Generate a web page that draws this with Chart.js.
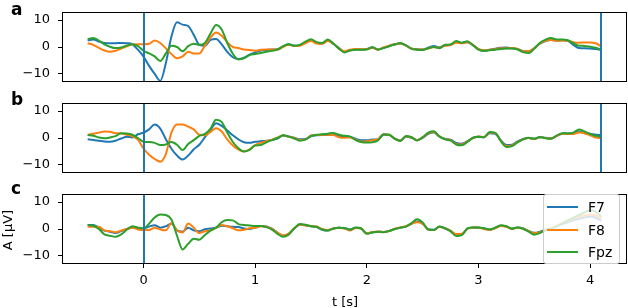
<!DOCTYPE html>
<html>
<head>
<meta charset="utf-8">
<script src="https://cdn.jsdelivr.net/npm/chart.js@4"></script>
<style>
  body { margin: 0; background: #fff; font-family: "DejaVu Sans", sans-serif; color: #000; }
  #wrap { position: relative; width: 628px; height: 308px; overflow: hidden; }
  canvas { position: absolute; left: 0; }
  .tag { position: absolute; left: 11px; font-weight: bold; font-size: 17px; line-height: 17px; }
  #ylab { position: absolute; left: -22px; top: 223px; width: 60px; height: 14px; line-height: 14px;
          font-size: 13px; text-align: center; transform: rotate(-90deg); white-space: nowrap; }
  #xlab { position: absolute; left: 305px; top: 294px; width: 80px; line-height: 15px; font-size: 13px; text-align: center; }
  #legend { position: absolute; left: 543px; top: 194px; width: 77px; height: 70px; box-sizing: border-box;
            border: 1px solid #cccccc; border-radius: 3px; background: rgba(255,255,255,0.8); }
  .lg-row { position: absolute; left: 0; height: 18px; width: 76px; font-size: 14px; line-height: 18px; }
  .lg-line { position: absolute; left: 3px; top: 8px; width: 31px; height: 2px; }
  .lg-text { position: absolute; left: 44px; top: 0; }
</style>
</head>
<body>
<div id="wrap">
  <canvas id="chartA" width="628" height="92" style="top:0px"></canvas>
  <canvas id="chartB" width="628" height="91" style="top:92px"></canvas>
  <canvas id="chartC" width="628" height="125" style="top:183px"></canvas>
  <div class="tag" style="top:1px">a</div>
  <div class="tag" style="top:91px">b</div>
  <div class="tag" style="top:180px">c</div>
  <div id="ylab">A [μV]</div>
  <div id="xlab">t [s]</div>
  <div id="legend"></div>
</div>
<script>
// sample times (s)
const times = [
  -0.5, -0.45, -0.4, -0.35, -0.3, -0.25, -0.2, -0.15, -0.1, -0.05,
  0, 0.05, 0.1, 0.15, 0.2, 0.25, 0.3, 0.35, 0.4, 0.45,
  0.5, 0.55, 0.6, 0.65, 0.7, 0.75, 0.8, 0.85, 0.9, 0.95,
  1, 1.05, 1.1, 1.15, 1.2, 1.25, 1.3, 1.35, 1.4, 1.45,
  1.5, 1.55, 1.6, 1.65, 1.7, 1.75, 1.8, 1.85, 1.9, 1.95,
  2, 2.05, 2.1, 2.15, 2.2, 2.25, 2.3, 2.35, 2.4, 2.45,
  2.5, 2.55, 2.6, 2.65, 2.7, 2.75, 2.8, 2.85, 2.9, 2.95,
  3, 3.05, 3.1, 3.15, 3.2, 3.25, 3.3, 3.35, 3.4, 3.45,
  3.5, 3.55, 3.6, 3.65, 3.7, 3.75, 3.8, 3.85, 3.9, 3.95,
  4, 4.05, 4.1
];
const channels = ['F7', 'F8', 'Fpz'];
const colors = ['#1f77b4', '#ff7f0e', '#2ca02c'];
const yTicks = [-10, 0, 10];
const xTicks = [0, 1, 2, 3, 4];
const eventsAB = [0, 4.1];
const eventsC = [0];

// panel a
const aF7 = [
  2.4, 2.8, 2.0, 1.5, 1.4, 1.4, 1.5, 1.4, 1.0, -1.0,
  -3.6, -7.0, -10.0, -12.6, -6.0, 3.9, 9.2, 8.3, 7.8, 4.5,
  0.8, 0.5, 2.6, 3.0, 1.0, -1.8, -3.8, -4.5, -4.0, -2.8,
  -2.0, -1.3, -1.1, -0.9, -0.8, 0.2, 1.0, 0.5, 0.6, 1.6,
  2.4, 1.6, 1.3, 2.4, 1.2, -0.4, -1.8, -1.2, -0.9, -0.9,
  -0.7, -0.2, -0.9, -0.3, 0.4, 0.9, 1.3, 0.6, -0.5, -0.8,
  -0.9, -0.3, 0.4, -0.1, 0.6, 0.8, 1.8, 1.5, 1.8, 0.7,
  -0.9, -1.5, -1.0, -0.6, -0.3, -0.2, -0.5, -0.7, -1.5, -1.6,
  -0.5, 1.2, 2.2, 2.6, 2.4, 2.5, 2.3, 0.8, -0.4, -0.5,
  -0.6, -0.7, -1.0
];
const aF8 = [
  1.4, 0.8, -0.3, -1.3, -1.8, -1.4, -0.6, 0.3, 0.9, 1.0,
  1.0, 1.2, 2.4, 1.5, -0.5, -2.6, -4.2, -3.5, -1.8, -2.4,
  -2.4, 0.5, 3.5, 5.4, 4.2, 1.8, 0.0, -0.4, -0.9, -1.1,
  -1.4, -1.0, -0.9, -0.9, -0.9, 0.0, 0.8, 0.4, 0.5, 1.4,
  2.2, 1.3, 1.2, 2.2, 1.2, -0.5, -1.6, -1.0, -0.7, -0.8,
  -0.8, -0.3, -1.0, -0.2, 0.5, 1.0, 1.3, 0.5, -0.6, -0.9,
  -0.9, -0.6, 0.0, -0.3, 0.5, 0.7, 1.6, 1.4, 1.8, 0.8,
  -0.7, -1.2, -1.0, -0.8, -0.5, -0.5, -0.4, -0.7, -1.6, -1.6,
  -0.4, 1.3, 2.3, 2.6, 2.3, 2.4, 2.3, 1.8, 1.6, 1.7,
  1.7, 1.4, 0.2
];
const aFpz = [
  2.9, 3.3, 2.4, 1.0, 0.1, -0.4, -0.2, 0.5, 1.0, 0.3,
  -1.4, -2.4, -3.5, -5.2, -2.4, 0.5, 0.0, -1.6, 0.3, 1.2,
  0.8, 1.5, 5.0, 8.2, 6.5, 1.5, -2.5, -4.6, -4.2, -3.0,
  -2.6, -2.2, -1.8, -1.4, -1.0, 0.3, 1.0, 0.5, 0.8, 2.0,
  2.9, 1.8, 1.5, 2.8, 1.3, -0.6, -2.0, -1.3, -1.0, -1.0,
  -0.9, -0.1, -1.0, -0.4, 0.3, 1.0, 1.5, 0.6, -0.7, -1.0,
  -1.1, -0.5, 0.0, -0.5, 0.8, 0.9, 2.2, 1.6, 2.1, 0.7,
  -1.0, -1.4, -1.2, -1.0, -0.7, -0.6, -0.6, -0.9, -1.9, -2.2,
  -0.6, 1.6, 2.7, 3.3, 2.8, 2.8, 2.5, 1.4, 0.5, 0.4,
  0.1, -0.3, -1.1
];

// panel b
const bF7 = [
  -0.5, -0.7, -1.0, -1.3, -1.4, -1.0, -0.2, 0.5, 0.2, 1.4,
  2.0, 3.2, 5.0, 3.5, -0.5, -4.0, -6.5, -8.0, -6.5, -4.2,
  -2.5, 0.3, 3.0, 5.5, 4.5, 2.8, 1.0, -0.5, -1.6, -1.8,
  -1.4, -1.2, -1.0, -0.7, -0.2, 0.9, 0.6, 0.1, -0.5, -0.4,
  0.6, 1.0, 1.1, 1.1, 1.2, 0.8, 0.6, 0.5, -0.3, -0.8,
  -0.8, -0.6, -0.6, 1.2, 1.1, -0.2, -0.9, 0.5, 0.1, -0.8,
  0.0, 1.5, 2.0, 0.5, -0.3, -0.6, -1.8, -2.1, -1.2, 0.0,
  0.5, 0.3, 1.8, 1.6, -0.8, -2.6, -2.5, -1.3, -0.4, 0.0,
  -0.3, 0.3, 0.1, -0.1, 0.8, 1.6, 1.7, 1.8, 2.4, 1.8,
  1.6, 1.2, 1.1
];
const bF8 = [
  1.1, 1.6, 2.0, 2.4, 2.3, 1.8, 1.7, 1.2, 0.6, -0.6,
  -3.9, -6.2, -7.8, -8.8, -6.0, 2.0, 5.0, 5.0, 4.2, 3.2,
  1.2, 1.0, 2.3, 3.6, 2.4, -0.5, -2.8, -4.3, -5.0, -4.2,
  -2.6, -1.8, -1.2, -0.6, 0.1, 1.0, 0.5, 0.0, -0.7, -0.5,
  0.9, 1.1, 1.2, 1.2, 1.1, 0.3, 0.1, 0.2, -0.6, -1.3,
  -1.2, -0.8, -0.4, 1.4, 1.2, -0.2, -1.0, 0.6, 0.3, -0.8,
  0.2, 1.8, 2.2, 0.6, -0.4, -0.8, -2.2, -2.4, -1.3, 0.0,
  0.6, 0.3, 2.0, 1.8, -1.0, -3.0, -2.8, -1.5, -0.5, 0.0,
  -0.4, 0.3, 0.0, -0.2, 0.7, 1.7, 1.5, 1.5, 2.0, 1.8,
  1.0, 0.2, 0.0
];
const bFpz = [
  1.1, 0.8, 0.2, -0.1, 0.2, 0.7, 1.8, 1.7, 1.2, 0.0,
  -1.4, -1.5, -1.8, -2.6, -2.4, -1.5, -2.5, -4.5, -2.2, -0.8,
  0.8, 1.5, 3.5, 6.8, 6.0, 2.0, -1.5, -3.8, -5.0, -4.4,
  -2.8, -2.6, -1.6, -0.8, 0.0, 1.0, 0.5, -0.2, -1.0, -0.6,
  0.8, 1.2, 1.4, 1.6, 1.9, 1.2, 0.8, 0.5, -0.8, -1.5,
  -1.7, -1.6, -0.9, 1.4, 1.2, -0.3, -1.1, 0.7, 0.3, -0.9,
  0.3, 2.0, 2.5, 0.6, -0.5, -1.0, -2.4, -2.7, -1.5, 0.1,
  0.5, 0.3, 2.2, 1.9, -1.2, -3.3, -3.0, -1.6, -0.5, 0.1,
  -0.3, 0.4, -0.1, -0.3, 0.9, 1.8, 1.7, 2.0, 3.2, 2.4,
  1.5, 0.8, 0.5
];

// panel c
const cF7 = [
  1.5, 1.5, 0.5, -0.6, -1.0, -1.5, -0.8, 0.0, 0.5, 0.4,
  0.2, 0.9, 1.4, 0.5, 1.0, 2.0, -0.5, -1.0, 0.5, -0.5,
  -0.8, -0.1, 0.2, 0.5, 1.2, 1.0, 0.8, 0.7, 0.2, 0.0,
  0.5, 1.1, 0.9, 0.1, -1.4, -2.5, -1.8, 0.2, 1.6, 1.4,
  1.0, 0.7, -0.3, -0.6, 0.2, 0.5, 0.3, -0.2, 0.5, 0.2,
  -1.6, -1.2, -1.0, -1.1, -0.7, 0.0, 0.5, 0.9, 1.9, 2.8,
  2.0, -0.1, -0.3, 0.8, 0.2, -0.7, -2.0, -2.0, 0.1, 0.6,
  0.5, 0.2, -0.2, 0.4, 1.2, 0.9, 0.1, 0.6, 0.2, -0.8,
  -1.4, -1.0, -0.3, 0.2, 1.0, 1.8, 2.5, 3.2, 3.8, 4.3,
  4.6, 4.2, 3.0
];
const cF8 = [
  0.9, 0.8, 0.8, -0.5, -0.8, -1.2, -0.6, 0.0, 0.5, -0.2,
  -0.4, -0.4, 0.5, -0.2, -0.5, 2.1, -0.5, -1.3, 2.0, 0.5,
  -1.5, -0.8, -0.5, 0.5, 1.5, 1.0, 0.3, -0.5, -0.3, 0.3,
  0.5, 1.0, 0.8, 0.0, -1.3, -2.4, -1.7, 0.3, 1.6, 1.3,
  1.1, 0.9, 0.0, -0.4, 0.2, 0.5, 0.2, -0.6, 0.4, 0.2,
  -1.7, -1.1, -0.9, -1.1, -0.8, 0.1, 0.6, 1.0, 1.9, 2.5,
  1.9, -0.2, -0.4, 0.8, 0.3, -0.6, -1.9, -1.8, 0.0, 0.6,
  0.6, 0.0, -0.4, 0.3, 1.1, 0.8, 0.1, 0.5, 0.1, -0.8,
  -1.6, -1.2, -0.4, 0.2, 1.2, 2.2, 3.0, 3.8, 4.5, 5.0,
  5.4, 5.0, 3.8
];
const cFpz = [
  1.5, 1.2, 0.0, -2.0, -2.5, -2.9, -2.0, -0.3, 1.0, 0.5,
  0.2, 2.0, 4.3, 5.4, 5.2, 3.5, -2.5, -7.6, -5.5, -3.6,
  -4.0, -2.2, -0.6, 0.5, 2.5, 3.3, 3.2, 1.8, 1.5, 1.3,
  1.1, 1.1, 0.7, -0.2, -1.8, -2.9, -2.1, 0.2, 1.9, 1.6,
  1.0, 0.8, -0.2, -0.6, 0.2, 0.5, 0.4, -0.3, 0.6, 0.2,
  -1.8, -1.3, -1.0, -1.2, -0.8, 0.0, 0.5, 0.9, 2.2, 3.6,
  2.4, -0.2, -0.4, 0.9, 0.3, -0.9, -2.6, -2.3, 0.2, 0.6,
  0.6, 0.3, -0.2, 0.5, 1.4, 1.0, 0.1, 0.6, 0.1, -1.0,
  -2.1, -1.5, -0.5, 0.0, 1.0, 2.0, 3.2, 4.2, 5.2, 6.2,
  7.0, 6.4, 4.5
];

const font = { family: '"DejaVu Sans", sans-serif', size: 13 };
const minus = v => (v < 0 ? '\u2212' + Math.abs(v) : String(v));

// stimulus markers and full axes box
const framePlugin = {
  id: 'frame',
  afterDatasetsDraw(chart, args, opts) {
    const { ctx, chartArea: a } = chart;
    const x = chart.scales.x;
    ctx.save();
    ctx.strokeStyle = colors[0];
    ctx.lineWidth = 2;
    (opts.events || []).forEach(t => {
      const px = Math.round(x.getPixelForValue(t));
      ctx.beginPath();
      ctx.moveTo(px, a.top);
      ctx.lineTo(px, a.bottom);
      ctx.stroke();
    });
    ctx.strokeStyle = '#000';
    ctx.lineWidth = 1;
    ctx.strokeRect(a.left + 0.5, a.top + 0.5, a.width - 1, a.height - 1);
    ctx.restore();
  }
};

// keep tick-label overflow from shrinking the plot box
const noPad = s => { s.paddingTop = 0; s.paddingBottom = 0; s.paddingLeft = 0; s.paddingRight = 0; };

function makePanel(id, series, events, showX, pad) {
  const datasets = series.map((vals, i) => ({
    label: channels[i],
    data: vals.map((v, k) => ({ x: times[k], y: v })),
    borderColor: colors[i],
    borderWidth: 2,
    pointRadius: 0,
    cubicInterpolationMode: 'monotone',
    order: series.length - i,
    clip: 0
  }));
  return new Chart(document.getElementById(id), {
    type: 'line',
    data: { datasets },
    plugins: [framePlugin],
    options: {
      responsive: false,
      animation: false,
      events: [],
      layout: { autoPadding: false, padding: { left: 0, right: 1, top: pad[0], bottom: pad[1] } },
      plugins: { legend: { display: false }, tooltip: { enabled: false }, frame: { events } },
      scales: {
        x: {
          type: 'linear',
          min: -0.73,
          max: 4.33,
          display: showX,
          afterBuildTicks: s => { s.ticks = xTicks.map(v => ({ value: v })); },
          afterFit: s => { s.height = showX ? 44 : 0; noPad(s); },
          grid: { drawOnChartArea: false, drawTicks: true, tickLength: 4, color: '#000' },
          border: { display: false },
          ticks: { font, color: '#000', padding: 5, maxRotation: 0, callback: v => minus(v) }
        },
        y: {
          min: -13,
          max: 13,
          afterBuildTicks: s => { s.ticks = yTicks.map(v => ({ value: v })); },
          afterFit: s => { s.width = 62; noPad(s); },
          grid: { drawOnChartArea: false, drawTicks: true, tickLength: 4, color: '#000' },
          border: { display: false },
          ticks: { font, color: '#000', padding: 8, callback: v => minus(v) }
        }
      }
    }
  });
}

makePanel('chartA', [aF7, aF8, aFpz], eventsAB, false, [12, 10]);
makePanel('chartB', [bF7, bF8, bFpz], eventsAB, false, [11, 10]);
const chartC = makePanel('chartC', [cF7, cF8, cFpz], eventsC, true, [11, 0]);

// legend box inside panel c
const legend = document.getElementById('legend');
chartC.data.datasets.forEach((ds, i) => {
  const row = document.createElement('div');
  row.className = 'lg-row';
  row.style.top = (3 + i * 22.5) + 'px';
  row.innerHTML = `<div class="lg-line" style="background:${ds.borderColor}"></div><span class="lg-text">${ds.label}</span>`;
  legend.appendChild(row);
});
</script>
</body>
</html>
